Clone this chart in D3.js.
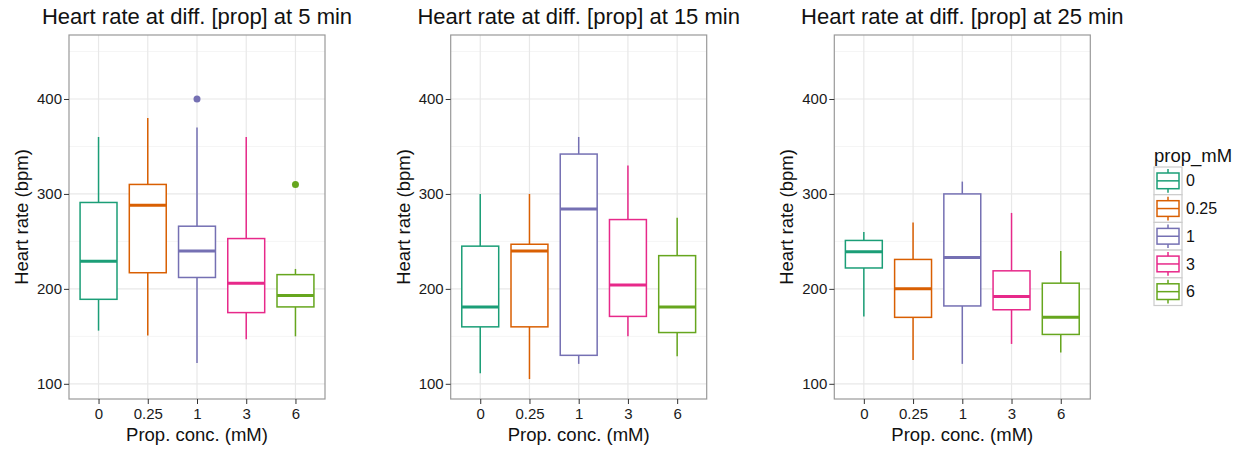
<!DOCTYPE html>
<html>
<head>
<meta charset="utf-8">
<script src="https://cdn.jsdelivr.net/npm/d3@7"></script>
<style>
  body { margin: 0; background: #fff; }
  svg { font-family: "Liberation Sans", Arial, sans-serif; }
  .tick text { fill: #1a1a1a; font-size: 15px; }
  .tick line { stroke: #333; }
</style>
</head>
<body>
<script>
const width = 1245, height = 450;

// data
const categories = ["0", "0.25", "1", "3", "6"];
const colours = ["#1B9E77", "#D95F02", "#7570B3", "#E7298A", "#66A61E"];
const times = [5, 15, 25];
const yTicks = [100, 200, 300, 400];
const yMinor = [150, 250, 350, 450];

// [lower whisker, Q1, median, Q3, upper whisker] per category
const stats5 = [[156, 189, 229, 291, 360], [151, 217, 288, 310, 380], [122, 212, 240, 266, 370], [147, 175, 206, 253, 360], [150, 181, 193, 215, 221]];
const stats15 = [[111, 160, 181, 245, 300], [105, 160, 240, 247, 300], [121, 130, 284, 342, 360], [150, 171, 204, 273, 330], [129, 154, 181, 235, 275]];
const stats25 = [[171, 222, 239, 251, 260], [125, 170, 200, 231, 270], [121, 182, 233, 300, 313], [142, 178, 192, 219, 280], [133, 152, 170, 206, 240]];
const outliers5 = [{ cat: "1", value: 400 }, { cat: "6", value: 310 }];
const outliers15 = [];
const outliers25 = [];

const panels = [
  { time: times[0], stats: stats5, outliers: outliers5, left: 69 },
  { time: times[1], stats: stats15, outliers: outliers15, left: 450.7 },
  { time: times[2], stats: stats25, outliers: outliers25, left: 834.3 }
];

const pw = 256, plotTop = 35, plotBottom = 399;

const svg = d3.select("body").append("svg")
  .attr("width", width).attr("height", height);

let y = d3.scaleLinear().domain([84, 467.4]).range([plotBottom, plotTop]);
let x = d3.scalePoint().domain(categories).range([0, pw]).padding(0.6);
const boxW = x.step() * 0.75;
const colour = d3.scaleOrdinal().domain(categories).range(colours);

panels.forEach(p => {
  const g = svg.append("g").attr("transform", "translate(" + p.left + ",0)");

  // grid
  g.selectAll(".minor").data(yMinor).enter().append("line")
    .attr("x1", 0).attr("x2", pw)
    .attr("y1", d => y(d)).attr("y2", d => y(d))
    .attr("stroke", "#f5f5f5").attr("stroke-width", 1);
  g.selectAll(".major").data(yTicks).enter().append("line")
    .attr("x1", 0).attr("x2", pw)
    .attr("y1", d => y(d)).attr("y2", d => y(d))
    .attr("stroke", "#e8e8e8").attr("stroke-width", 1.2);
  g.selectAll(".vmajor").data(categories).enter().append("line")
    .attr("x1", d => x(d)).attr("x2", d => x(d))
    .attr("y1", plotTop).attr("y2", plotBottom)
    .attr("stroke", "#e8e8e8").attr("stroke-width", 1.2);

  // boxes
  p.stats.forEach((s, i) => {
    const c = categories[i];
    const cx = x(c);
    const col = colour(c);
    const b = g.append("g");
    b.append("line").attr("x1", cx).attr("x2", cx)
      .attr("y1", y(s[0])).attr("y2", y(s[1]))
      .attr("stroke", col).attr("stroke-width", 1.5);
    b.append("line").attr("x1", cx).attr("x2", cx)
      .attr("y1", y(s[3])).attr("y2", y(s[4]))
      .attr("stroke", col).attr("stroke-width", 1.5);
    b.append("rect")
      .attr("x", cx - boxW / 2).attr("width", boxW)
      .attr("y", y(s[3])).attr("height", y(s[1]) - y(s[3]))
      .attr("fill", "#fff").attr("stroke", col).attr("stroke-width", 1.5);
    b.append("line").attr("x1", cx - boxW / 2).attr("x2", cx + boxW / 2)
      .attr("y1", y(s[2])).attr("y2", y(s[2]))
      .attr("stroke", col).attr("stroke-width", 3);
  });

  g.selectAll(".out").data(p.outliers).enter().append("circle")
    .attr("cx", d => x(d.cat)).attr("cy", d => y(d.value))
    .attr("r", 3.5).attr("fill", d => colour(d.cat));

  // border
  g.append("rect").attr("x", 0).attr("y", plotTop).attr("width", pw).attr("height", plotBottom - plotTop)
    .attr("fill", "none").attr("stroke", "#999").attr("stroke-width", 1.2);

  // axes
  const ya = g.append("g")
    .call(d3.axisLeft(y).tickValues(yTicks).tickSize(5).tickPadding(2));
  ya.select(".domain").remove();
  ya.selectAll(".tick text").attr("font-size", 15).attr("font-family", null);

  const xa = g.append("g").attr("transform", "translate(0," + plotBottom + ")")
    .call(d3.axisBottom(x).tickSize(5).tickPadding(4));
  xa.select(".domain").remove();
  xa.selectAll(".tick text").attr("font-size", 15).attr("font-family", null);

  g.append("text")
    .attr("x", pw / 2).attr("y", 441)
    .attr("text-anchor", "middle").attr("font-size", 18.5).attr("fill", "#111")
    .text("Prop. conc. (mM)");

  g.append("text")
    .attr("transform", "translate(-41," + (plotTop + plotBottom) / 2 + ") rotate(-90)")
    .attr("text-anchor", "middle").attr("font-size", 18.5).attr("fill", "#111")
    .text("Heart rate (bpm)");

  g.append("text")
    .attr("x", pw / 2).attr("y", 24)
    .attr("text-anchor", "middle").attr("font-size", 22).attr("fill", "#111")
    .text("Heart rate at diff. [prop] at " + p.time + " min");
});

// legend
const lx = 1154, ly = 167, keyH = 27.7, keyW = 28;
const legend = svg.append("g");
legend.append("text").attr("x", lx).attr("y", 162)
  .attr("font-size", 18.5).attr("fill", "#111").text("prop_mM");

categories.forEach((c, i) => {
  const k = legend.append("g").attr("transform", "translate(" + lx + "," + (ly + i * keyH) + ")");
  const col = colour(c);
  k.append("rect").attr("width", keyW).attr("height", keyH)
    .attr("fill", "#fff").attr("stroke", "#ccc").attr("stroke-width", 1.2);
  k.append("line").attr("x1", keyW / 2).attr("x2", keyW / 2).attr("y1", 2).attr("y2", keyH - 2)
    .attr("stroke", col).attr("stroke-width", 1.5);
  k.append("rect").attr("x", 3).attr("width", keyW - 6).attr("y", 6).attr("height", keyH - 12)
    .attr("fill", "#fff").attr("stroke", col).attr("stroke-width", 1.5);
  k.append("line").attr("x1", 3).attr("x2", keyW - 3).attr("y1", keyH / 2).attr("y2", keyH / 2)
    .attr("stroke", col).attr("stroke-width", 1.5);
  k.append("text").attr("x", keyW + 4).attr("y", keyH / 2).attr("dy", "0.35em")
    .attr("font-size", 16).attr("fill", "#111").text(c);
});
</script>
</body>
</html>
